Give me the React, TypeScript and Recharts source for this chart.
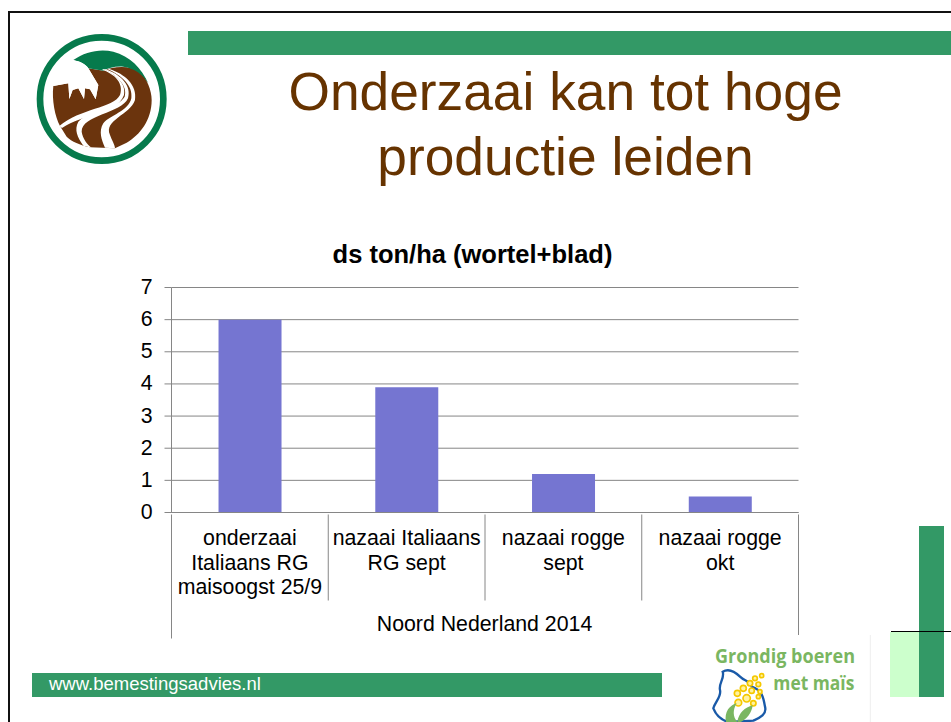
import { Bar, BarChart, CartesianGrid, XAxis, YAxis } from "recharts"

const categories = [
  ["onderzaai", "Italiaans RG", "maisoogst 25/9"],
  ["nazaai Italiaans", "RG sept"],
  ["nazaai rogge", "sept"],
  ["nazaai rogge", "okt"],
]
const values = [6, 3.9, 1.2, 0.5]
const yTicks = [0, 1, 2, 3, 4, 5, 6, 7]
const groupLabel = "Noord Nederland 2014"
const chartTitle = "ds ton/ha (wortel+blad)"
const slideTitle = ["Onderzaai kan tot hoge", "productie leiden"]
const footerText = "www.bemestingsadvies.nl"

const data = categories.map((lines, i) => ({ name: lines.join(" "), value: values[i] }))

const FONT = '"Liberation Sans", Arial, sans-serif'
const GREEN = "#339966"
const AXIS = "#868686"
const LABEL_SIZE = 21.3

function CategoryTick({ x, y, index, payload }: any) {
  const band = 156.75
  const lines = categories[index] ?? [payload.value]
  const left = x - band / 2
  return (
    <g>
      <line x1={left} x2={left} y1={y} y2={index === 0 ? y + 124 : y + 86} stroke={AXIS} />
      {index === categories.length - 1 && (
        <line x1={left + band} x2={left + band} y1={y} y2={y + 124} stroke={AXIS} />
      )}
      {lines.map((line: string, i: number) => (
        <text key={i} x={x} y={y + 30.5 + i * 24.7} textAnchor="middle" fontSize={LABEL_SIZE} fontFamily={FONT} fill="#000">
          {line}
        </text>
      ))}
    </g>
  )
}

// drawn in the coordinates of a 3x crop, hence the viewBox
function FarmLogo() {
  return (
    <svg width={300} height={200} viewBox="0 0 900 600" style={{ position: "absolute", left: 0, top: 0 }}>
      <circle cx={305} cy={297} r={185} fill="#fff" stroke="#067a4c" strokeWidth={20} />
      <path d="M160 258 L205 250 L208 297 L218 270 L235 265 L252 297 L255 265 L270 268 L287 298 L295 255 L265 205 L310 212 C340 198 390 195 420 215 C440 235 455 270 455 300 C455 360 420 405 380 428 L345 445 L270 442 C240 435 215 425 200 410 L180 378 C165 350 155 300 160 258 Z" fill="#6b340d" />
      <path d="M220 180 C255 155 300 145 340 155 C390 168 425 205 445 250 C430 225 405 205 370 200 C345 198 325 205 310 212 L265 205 C255 190 240 185 220 180 Z" fill="#067a4c" />
      <path d="M306 209 C345 222 372 250 360 285 C340 325 240 325 178 378 L186 384 C250 340 350 345 372 285 C380 250 345 222 312 207 Z" fill="#fff" />
      <path d="M318 208 C365 226 395 258 384 295 C365 340 245 345 245 395 C248 415 262 435 275 443 L250 437 C232 410 222 390 235 365 C265 330 355 325 374 290 C384 258 352 226 314 209 Z" fill="#fff" />
      <path d="M328 207 C375 222 412 255 405 300 C390 345 310 360 330 405 C335 420 345 435 345 445 L315 443 C305 420 295 395 310 370 C330 345 385 335 394 295 C400 258 365 225 322 208 Z" fill="#fff" />
      <path d="M220 180 C240 185 255 190 265 205 L295 255 L287 298 L270 268 L255 265 L252 297 L235 265 L218 270 L208 297 L205 250 L160 258 C165 225 190 195 220 180 Z" fill="#fff" />
    </svg>
  )
}

function PartnerLogo() {
  const corn = [
    [335, 527, 6], [315, 535, 7], [300, 550, 8], [325, 553, 7], [280, 565, 9], [305, 572, 8], [330, 575, 6],
    [262, 580, 9], [290, 595, 11], [265, 608, 10], [310, 610, 8], [325, 590, 6],
  ]
  return (
    <svg width={301} height={222} viewBox="0 0 903 666" style={{ position: "absolute", left: 650, top: 500 }}>
      <rect x={183} y={405} width={477} height={261} fill="#fff" />
      <line x1={661} x2={661} y1={405} y2={666} stroke="#eeeeee" strokeWidth={3} />
      <text x={195} y={488} fontFamily='"Open Sans"' fontWeight={700} fontSize={60} fill="#7ab661" textLength={420} lengthAdjust="spacingAndGlyphs">
        Grondig boeren
      </text>
      <text x={370} y={570} fontFamily='"Open Sans"' fontWeight={700} fontSize={60} fill="#7ab661" textLength={243} lengthAdjust="spacingAndGlyphs">
        met maïs
      </text>
      <path d="M218 515 C235 505 255 515 270 530 C285 545 295 538 305 560 C335 570 340 590 345 620 C352 645 325 655 310 662 L235 666 C215 660 200 650 190 625 C195 605 215 590 210 570 C205 550 225 535 218 515 Z" fill="#fff" stroke="#1a5aa8" strokeWidth={7} />
      {corn.map(([cx, cy, r], i) => (
        <circle key={i} cx={cx} cy={cy} r={r} fill="#fff3a0" stroke="#f5c800" strokeWidth={5} />
      ))}
      <path d="M228 666 C222 635 240 615 260 610 C248 630 248 650 262 666 Z" fill="#7ab661" />
      <path d="M262 666 C265 640 285 622 308 616 C305 640 290 658 272 666 Z" fill="#7ab661" />
    </svg>
  )
}

export default function App() {
  return (
    <div style={{ position: "absolute", left: 0, top: 0, width: 951, height: 722, overflow: "hidden", background: "#fff", fontFamily: FONT }}>
      <div style={{ position: "absolute", left: 8, top: 11, width: 960, height: 720, borderLeft: "2px solid #111", borderTop: "2px solid #111" }} />
      <FarmLogo />
      <div style={{ position: "absolute", left: 188, top: 31, width: 763, height: 24, background: GREEN }} />
      <div style={{ position: "absolute", left: 188, top: 59, width: 763, textAlign: "center", fontSize: 53.3, lineHeight: "65px", color: "#663300" }}>
        {slideTitle.map((line) => (
          <div key={line} style={{ marginLeft: -8 }}>{line}</div>
        ))}
      </div>
      <div style={{ position: "absolute", left: 171, top: 240, width: 603, textAlign: "center", fontSize: 25.5, fontWeight: 700, lineHeight: "28px", color: "#000" }}>
        {chartTitle}
      </div>

      <div style={{ position: "absolute", left: 0, top: 0 }}>
        <BarChart
          width={951}
          height={722}
          data={data}
          margin={{ top: 287.5, right: 152.5, bottom: 0, left: 131.5 }}
          barCategoryGap="30%"
        >
          <CartesianGrid vertical={false} stroke={AXIS} />
          <XAxis
            dataKey="name"
            interval={0}
            height={209.5}
            tickLine={false}
            tickSize={0}
            axisLine={{ stroke: AXIS }}
            tick={CategoryTick}
          />
          <YAxis
            width={40}
            domain={[0, 7]}
            ticks={yTicks}
            interval={0}
            axisLine={{ stroke: AXIS }}
            tickLine={{ stroke: AXIS }}
            tickSize={7}
            tickMargin={12}
            tick={{ fill: "#000", fontSize: LABEL_SIZE, fontFamily: FONT, dy: -1 }}
          />
          <Bar dataKey="value" fill="#7575d1" isAnimationActive={false} />
        </BarChart>
      </div>

      <div style={{ position: "absolute", left: 171, top: 612, width: 627, textAlign: "center", fontSize: LABEL_SIZE, lineHeight: "25px", color: "#000" }}>
        {groupLabel}
      </div>

      <div style={{ position: "absolute", left: 32, top: 673, width: 630, height: 24, background: GREEN }} />
      <div style={{ position: "absolute", left: 49, top: 672, fontSize: 18.5, lineHeight: "23px", color: "#fff" }}>{footerText}</div>
      <PartnerLogo />
      <div style={{ position: "absolute", left: 890, top: 632, width: 29, height: 65, background: "#ccffcc" }} />
      <div style={{ position: "absolute", left: 919, top: 526, width: 25, height: 171, background: GREEN }} />
      <div style={{ position: "absolute", left: 891, top: 631, width: 60, height: 1, background: "#000" }} />
    </div>
  )
}
